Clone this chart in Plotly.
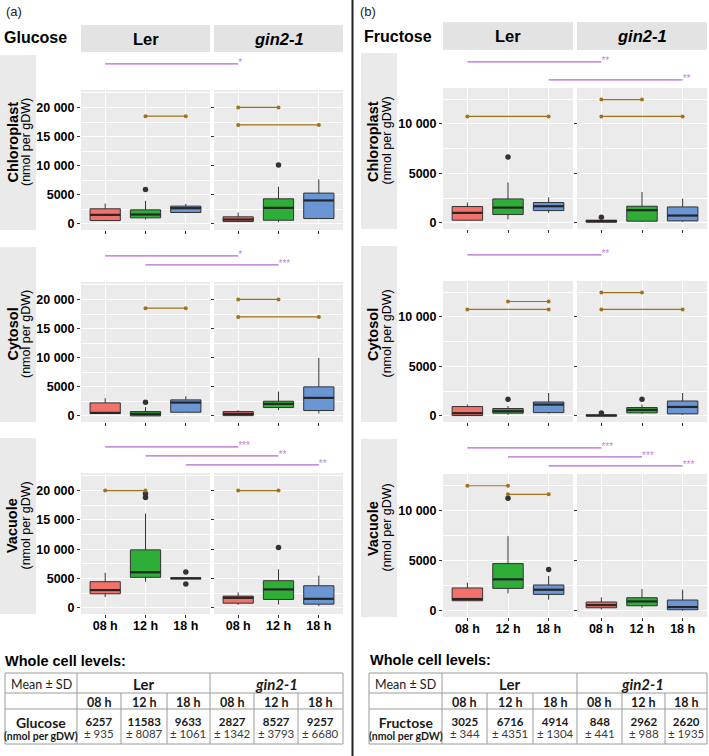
import plotly.graph_objects as go

W, H = 709, 756
FONT = "Liberation Sans, Arial, sans-serif"
TFONT = "Lato, Liberation Sans, sans-serif"

# ---------------- data ----------------
SUGARS = ["Glucose", "Fructose"]
PANEL_TAGS = ["(a)", "(b)"]
GENOTYPES = ["Ler", "gin2-1"]
COMPARTMENTS = ["Chloroplast", "Cytosol", "Vacuole"]
TIMES = ["08 h", "12 h", "18 h"]
BOX_COLORS = ["#F2716B", "#2EAE36", "#6A96D6"]

# (lower whisker, Q1, median, Q3, upper whisker); order Ler 08/12/18 h, gin2-1 08/12/18 h
glucose_chloroplast = [(460, 575, 1550, 2590, 3500), (750, 1035, 1610, 2415, 3970),
                       (1840, 1955, 2700, 3050, 3450), (290, 400, 750, 1210, 1955),
                       (290, 630, 2760, 4310, 6380), (920, 920, 4025, 5290, 7650)]
glucose_cytosol = [(400, 400, 515, 2235, 3040), (0, 0, 345, 745, 1500),
                   (630, 630, 2290, 2750, 3380), (50, 50, 345, 745, 975),
                   (975, 1430, 2060, 2520, 4180), (400, 920, 3095, 4985, 9970)]
glucose_vacuole = [(1830, 2400, 3030, 4460, 6000), (4460, 5200, 6060, 9890, 16060),
                   (4950, 4950, 5030, 5100, 5100), (510, 800, 1710, 2000, 2630),
                   (570, 1430, 3140, 4630, 6570), (290, 630, 1540, 3770, 5490)]
fructose_chloroplast = [(270, 270, 1010, 1650, 2050), (340, 840, 1540, 2420, 4090),
                        (1010, 1240, 1680, 2050, 2580), (70, 70, 170, 270, 270),
                        (100, 170, 1280, 1680, 3120), (100, 200, 740, 1610, 2450)]
fructose_cytosol = [(30, 30, 270, 940, 1140), (100, 270, 470, 740, 1000),
                    (230, 330, 1140, 1400, 2310), (0, 0, 30, 100, 100),
                    (200, 300, 600, 840, 1140), (100, 200, 900, 1500, 2310)]
fructose_vacuole = [(1000, 1000, 1170, 2270, 2800), (1730, 2230, 3130, 4700, 7430),
                    (1100, 1630, 2100, 2570, 3470), (130, 300, 570, 870, 1330),
                    (300, 500, 930, 1300, 2170), (0, 100, 370, 1070, 2100)]

# outliers: (genotype index, time index, value)
glucose_chloroplast_outliers = [(0, 1, 5920), (1, 1, 10120)]
glucose_cytosol_outliers = [(0, 1, 2350)]
glucose_vacuole_outliers = [(0, 1, 18800), (0, 1, 19480), (0, 2, 6110), (0, 2, 4060), (1, 1, 10290)]
fructose_chloroplast_outliers = [(0, 1, 6640), (1, 0, 570)]
fructose_cytosol_outliers = [(0, 1, 1670), (1, 0, 300), (1, 1, 1670)]
fructose_vacuole_outliers = [(0, 1, 11200), (0, 2, 4100)]

# within-genotype time comparisons: (genotype, time from, time to, y)
glucose_chloroplast_time = [(0, 1, 2, 18500), (1, 0, 1, 20000), (1, 0, 2, 17000)]
glucose_cytosol_time = [(0, 1, 2, 18500), (1, 0, 1, 20000), (1, 0, 2, 17000)]
glucose_vacuole_time = [(0, 0, 1, 20000), (1, 0, 1, 20000)]
fructose_chloroplast_time = [(0, 0, 2, 10750), (1, 0, 1, 12450), (1, 0, 2, 10750)]
fructose_cytosol_time = [(0, 0, 2, 10750), (0, 1, 2, 11550), (1, 0, 1, 12450), (1, 0, 2, 10750)]
fructose_vacuole_time = [(0, 0, 1, 12450), (0, 1, 2, 11600)]

# between-genotype comparisons at the same time: (time index, label)
glucose_chloroplast_geno = [(0, "*")]
glucose_cytosol_geno = [(0, "*"), (1, "***")]
glucose_vacuole_geno = [(0, "***"), (1, "**"), (2, "**")]
fructose_chloroplast_geno = [(0, "**"), (2, "**")]
fructose_cytosol_geno = [(0, "**")]
fructose_vacuole_geno = [(0, "***"), (1, "***"), (2, "***")]

GLUCOSE_TICKS = [0, 5000, 10000, 15000, 20000]
GLUCOSE_TICK_LABELS = ["0", "5000", "10 000", "15 000", "20 000"]
FRUCTOSE_TICKS = [0, 5000, 10000]
FRUCTOSE_TICK_LABELS = ["0", "5000", "10 000"]
GLUCOSE_RANGE = [-1050, 23000]
FRUCTOSE_RANGE = [-620, 13620]

# whole-cell table
GLUCOSE_MEAN = [6257, 11583, 9633, 2827, 8527, 9257]
GLUCOSE_SD = [935, 8087, 1061, 1342, 3793, 6680]
FRUCTOSE_MEAN = [3025, 6716, 4914, 848, 2962, 2620]
FRUCTOSE_SD = [344, 4351, 1304, 441, 988, 1935]

BOX_DATA = [[glucose_chloroplast, glucose_cytosol, glucose_vacuole],
            [fructose_chloroplast, fructose_cytosol, fructose_vacuole]]
OUTLIERS = [[glucose_chloroplast_outliers, glucose_cytosol_outliers, glucose_vacuole_outliers],
            [fructose_chloroplast_outliers, fructose_cytosol_outliers, fructose_vacuole_outliers]]
TIME_SIG = [[glucose_chloroplast_time, glucose_cytosol_time, glucose_vacuole_time],
            [fructose_chloroplast_time, fructose_cytosol_time, fructose_vacuole_time]]
GENO_SIG = [[glucose_chloroplast_geno, glucose_cytosol_geno, glucose_vacuole_geno],
            [fructose_chloroplast_geno, fructose_cytosol_geno, fructose_vacuole_geno]]
TICKS = [(GLUCOSE_TICKS, GLUCOSE_TICK_LABELS, GLUCOSE_RANGE),
         (FRUCTOSE_TICKS, FRUCTOSE_TICK_LABELS, FRUCTOSE_RANGE)]
TABLE = [(GLUCOSE_MEAN, GLUCOSE_SD), (FRUCTOSE_MEAN, FRUCTOSE_SD)]

# ---------------- layout geometry (pixels) ----------------
GEOM = [
    dict(tag=(5, 12), title=(3, 37), strip=(0, 36), panel=(81, 343), header=(25, 52),
         row_top=[55, 247, 438], panel_top=[90, 282, 473], panel_bot=[230, 422, 614],
         whole=(4, 661), table_x=[5, 77, 121, 167, 210, 254, 298, 343]),
    dict(tag=(359, 12), title=(363, 36), strip=(361, 397), panel=(443, 707), header=(22, 50),
         row_top=[53, 246, 439], panel_top=[88, 281, 474], panel_bot=[229, 422, 617],
         whole=(369, 660), table_x=[369, 442, 487, 533, 577, 622, 665, 707]),
]
TABLE_Y = [673, 693, 709, 744]
FACET_GAP = 4
BROWN = "#A0731B"
PURPLE = "#B468D2"
STAR = "#C08ADB"
DARK = "#333333"
TXT = "#1a1a1a"


def px(x):
    return x / W


def py(y):
    return 1 - y / H


def sfx(n):
    return "" if n == 1 else str(n)


def note(text, x, y, size, xanchor="center", color="black", family=FONT, angle=0):
    return dict(text=text, x=px(x), y=py(y), xref="paper", yref="paper", xanchor=xanchor,
                yanchor="middle", showarrow=False, textangle=angle, borderpad=0,
                font=dict(family=family, size=size, color=color))


fig = go.Figure()
layout = dict(width=W, height=H, margin=dict(l=0, r=0, t=0, b=0), autosize=False,
              paper_bgcolor="white", plot_bgcolor="white", boxmode="overlay",
              showlegend=False, font=dict(family=FONT, color="black"))
shapes, annotations = [], []

for s, sugar in enumerate(SUGARS):
    G = GEOM[s]
    left, right = G["panel"]
    facet_w = (right - left - FACET_GAP) / 2
    unit = facet_w / 3.2
    offset = 3.2 + FACET_GAP / unit
    xr = [-0.6, offset + 2.6]
    pos = [[g * offset + t for t in range(3)] for g in range(2)]
    tickpos = pos[0] + pos[1]
    ticks, ticklabels, yr = TICKS[s]
    step = ticks[1] - ticks[0]
    minor_vals = [t + step / 2 for t in ticks if t + step / 2 < yr[1]]

    # panel tag and sugar title
    annotations.append(note(PANEL_TAGS[s], G["tag"][0], G["tag"][1], 13, "left", "#222"))
    annotations.append(note("<b>%s</b>" % sugar, G["title"][0], G["title"][1], 16, "left"))
    # genotype header strips
    for g, geno in enumerate(GENOTYPES):
        x0 = left + g * (facet_w + FACET_GAP)
        shapes.append(dict(type="rect", xref="paper", yref="paper", x0=px(x0), x1=px(x0 + facet_w),
                           y0=py(G["header"][1]), y1=py(G["header"][0]), fillcolor="#E3E3E3",
                           line=dict(width=0), layer="above"))
        label = "<b>Ler</b>" if g == 0 else "<b><i>%s</i></b>" % geno
        annotations.append(note(label, x0 + facet_w / 2, (G["header"][0] + G["header"][1]) / 2, 16.5))

    for r, comp in enumerate(COMPARTMENTS):
        n = s * 3 + r + 1
        xa, ya = "x" + sfx(n), "y" + sfx(n)
        ys, yt = "y" + str(n + 6), "y" + str(n + 12)

        # row label strip
        shapes.append(dict(type="rect", xref="paper", yref="paper", x0=px(G["strip"][0]),
                           x1=px(G["strip"][1]), y0=py(G["panel_bot"][r]), y1=py(G["row_top"][r]),
                           fillcolor="#EAEAEA", line=dict(width=0), layer="above"))
        yc = (G["row_top"][r] + G["panel_bot"][r]) / 2
        annotations.append(note("<b>%s</b>" % comp, G["strip"][0] + 12, yc, 14.5, angle=-90))
        annotations.append(note("(nmol per gDW)", G["strip"][0] + 25.5, yc, 12.5, angle=-90))

        layout["xaxis" + sfx(n)] = dict(
            domain=[px(left), px(right)], anchor=ya, range=xr, tickmode="array",
            tickvals=tickpos, ticktext=TIMES * 2, showticklabels=(r == 2), ticks="outside",
            ticklen=3, tickwidth=1, tickcolor=DARK, ticklabelstandoff=-3,
            tickfont=dict(family=FONT, size=12.5, color="black", weight="bold"),
            showgrid=True, gridcolor="white", gridwidth=1.3, zeroline=False, showline=False,
            fixedrange=True)
        layout["yaxis" + sfx(n)] = dict(
            domain=[py(G["panel_bot"][r]), py(G["panel_top"][r])], anchor=xa, range=yr,
            tickmode="array", tickvals=ticks, ticktext=ticklabels, ticks="outside", ticklen=3,
            tickwidth=1, tickcolor=DARK,
            tickfont=dict(family=FONT, size=12.5, color="black", weight="bold"),
            showgrid=True, gridcolor="white", gridwidth=1.3,
            minor=dict(tickmode="array", tickvals=minor_vals, showgrid=True,
                       gridcolor="white", gridwidth=0.6),
            zeroline=False, showline=False, fixedrange=True)
        layout["yaxis" + str(n + 6)] = dict(
            domain=[py(G["panel_top"][r]), py(G["row_top"][r])], anchor=xa, range=[3.9, 0],
            visible=False, fixedrange=True)
        layout["yaxis" + str(n + 12)] = dict(
            overlaying=ya, anchor="free", position=px(left + facet_w + FACET_GAP), side="left",
            range=yr, tickmode="array", tickvals=ticks, showticklabels=False, ticks="outside",
            ticklen=3, tickwidth=1, tickcolor=DARK, showgrid=False, zeroline=False,
            showline=False, fixedrange=True)

        # facet backgrounds
        for g in range(2):
            shapes.append(dict(type="rect", xref=xa, yref=ya, x0=pos[g][0] - 0.6, x1=pos[g][2] + 0.6,
                               y0=yr[0], y1=yr[1], fillcolor="#EBEBEB", line=dict(width=0),
                               layer="below"))

        # boxes
        data = BOX_DATA[s][r]
        mx, my = [], []
        for g in range(2):
            for t in range(3):
                lo, q1, med, q3, hi = data[g * 3 + t]
                fig.add_trace(go.Box(
                    x=[pos[g][t]], lowerfence=[lo], q1=[q1], median=[med], q3=[q3],
                    upperfence=[hi], orientation="v", width=0.75, fillcolor=BOX_COLORS[t],
                    line=dict(color=DARK, width=1), whiskerwidth=0, boxpoints=False,
                    xaxis=xa, yaxis=ya, hoverinfo="skip", showlegend=False))
                mx += [pos[g][t] - 0.375, pos[g][t] + 0.375, None]
                my += [med, med, None]
        fig.add_trace(go.Scatter(x=mx, y=my, mode="lines", line=dict(color="#262626", width=2.2),
                                 xaxis=xa, yaxis=ya, hoverinfo="skip", showlegend=False))
        # outliers
        outs = OUTLIERS[s][r]
        fig.add_trace(go.Scatter(x=[pos[g][t] for g, t, v in outs], y=[v for g, t, v in outs],
                                 mode="markers", marker=dict(color=DARK, size=5.5),
                                 xaxis=xa, yaxis=ya, hoverinfo="skip", showlegend=False))
        # time comparisons (brown)
        bx, by = [], []
        for g, t1, t2, v in TIME_SIG[s][r]:
            bx += [pos[g][t1], pos[g][t2], None]
            by += [v, v, None]
        fig.add_trace(go.Scatter(x=bx, y=by, mode="lines+markers",
                                 line=dict(color=BROWN, width=1.2),
                                 marker=dict(color=BROWN, size=4), xaxis=xa, yaxis=ya,
                                 hoverinfo="skip", showlegend=False))
        # genotype comparisons (purple)
        gx, gy, tx, ty, tt = [], [], [], [], []
        for t, lab in GENO_SIG[s][r]:
            gx += [pos[0][t], pos[1][t], None]
            gy += [t + 1, t + 1, None]
            tx.append(pos[1][t])
            ty.append(t + 1)
            tt.append(lab)
        fig.add_trace(go.Scatter(x=gx, y=gy, mode="lines", line=dict(color=PURPLE, width=1.2),
                                 xaxis=xa, yaxis=ys, hoverinfo="skip", showlegend=False))
        fig.add_trace(go.Scatter(x=tx, y=ty, mode="text", text=tt, textposition="middle right",
                                 textfont=dict(size=10, color=STAR), cliponaxis=False,
                                 xaxis=xa, yaxis=ys, hoverinfo="skip", showlegend=False))
        # dummy trace so the second facet's tick axis is drawn
        fig.add_trace(go.Scatter(x=[pos[1][0]], y=[0], mode="markers", marker=dict(opacity=0),
                                 xaxis=xa, yaxis=yt, hoverinfo="skip", showlegend=False))

    # ---- whole cell table ----
    annotations.append(note("<b>Whole cell levels:</b>", G["whole"][0], G["whole"][1], 14.5, "left"))
    tx_ = G["table_x"]
    lc = "#9A9A9A"
    for yv in TABLE_Y:
        shapes.append(dict(type="line", xref="paper", yref="paper", x0=px(tx_[0]), x1=px(tx_[-1]),
                           y0=py(yv), y1=py(yv), line=dict(color=lc, width=1)))
    for i, xv in enumerate(tx_):
        full = i in (0, 1, 4, 7)
        shapes.append(dict(type="line", xref="paper", yref="paper", x0=px(xv), x1=px(xv),
                           y0=py(TABLE_Y[-1]), y1=py(TABLE_Y[0] if full else TABLE_Y[1]),
                           line=dict(color=lc, width=1)))
    r0 = (TABLE_Y[0] + TABLE_Y[1]) / 2
    r1 = (TABLE_Y[1] + TABLE_Y[2]) / 2 + 1
    r2 = (TABLE_Y[2] + TABLE_Y[3]) / 2 + 1
    c0 = (tx_[0] + tx_[1]) / 2
    annotations.append(note("Mean ± SD", c0, r0 + 1, 12.5, color=TXT, family=TFONT))
    annotations.append(note("<b>Ler</b>", (tx_[1] + tx_[4]) / 2, r0 + 1, 15, color=TXT, family=TFONT))
    annotations.append(note("<b><i>gin2-1</i></b>", (tx_[4] + tx_[7]) / 2, r0 + 1, 15, color=TXT,
                            family=TFONT))
    annotations.append(note("<span style='font-size:14px'><b>%s</b></span><br>"
                            "<span style='font-size:10.5px'><b>(nmol per gDW)</b></span>" % sugar,
                            c0, r2, 9.5, color=TXT, family=TFONT))
    means, sds = TABLE[s]
    for i in range(6):
        xc = (tx_[i + 1] + tx_[i + 2]) / 2
        annotations.append(note("<b>%s</b>" % TIMES[i % 3], xc, r1, 12.5, color=TXT, family=TFONT))
        annotations.append(note("<span style='font-size:11.5px'><b>%d</b></span><br>"
                                "<span style='font-size:11.5px;color:#3a3a3a'>± %d</span>"
                                % (means[i], sds[i]), xc, r2, 9.5, color=TXT, family=TFONT))

# separator line between (a) and (b)
shapes.append(dict(type="line", xref="paper", yref="paper", x0=px(352.5), x1=px(352.5), y0=0, y1=1,
                   line=dict(color="#222222", width=2)))

layout["shapes"] = shapes
layout["annotations"] = annotations
fig.update_layout(**layout)
fig.write_html("out.html", config={"displayModeBar": False},
               post_script="document.body.style.margin='0';document.body.style.padding='0';"
                           "document.documentElement.style.overflow='hidden';")
